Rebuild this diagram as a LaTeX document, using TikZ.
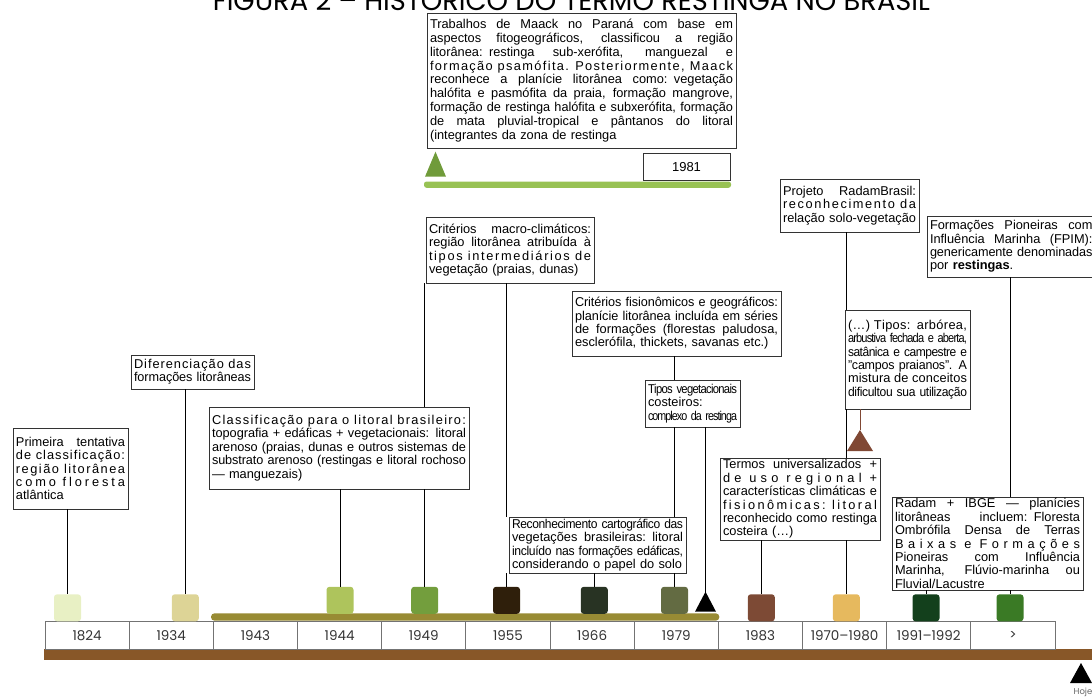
\documentclass[tikz,border=0pt]{standalone}
\usepackage{fontspec}
\usepackage{graphicx}
\setmainfont{Liberation Sans}
\newfontfamily\yearfont{Poppins}
\newfontfamily\titlefont{Poppins}
\usetikzlibrary{calc}
% letter-spacing helper (class 7 chars get stretchable/shrinkable glue between them)
\newcount\lsc
\lsc=33
\loop\XeTeXcharclass\lsc=7 \advance\lsc 1 \ifnum\lsc<256 \repeat
\XeTeXcharclass"2026=7 \XeTeXcharclass"2014=7
\XeTeXinterchartoks 7 7 = {\hskip 0pt plus 1fil minus 1fil\relax}
\newsavebox\jlbox
\newdimen\jldim
% condense: half by tighter letter spacing, half by narrower glyphs
\newcommand\condense[1]{\jldim=\dimexpr(\wd\jlbox+\linewidth)/2\relax
  \sbox\jlbox{\hbox to \jldim{\XeTeXinterchartokenstate=1 #1}}%
  \resizebox{\linewidth}{\height}{\usebox\jlbox}}
\newcommand\jl[1]{\sbox\jlbox{#1}\ifdim\wd\jlbox>\linewidth\condense{#1}\else\makebox[\linewidth][s]{\spaceskip=\fontdimen2\font plus 1fil\relax #1}\fi}
\newcommand\ljl[1]{\sbox\jlbox{#1}\ifdim\wd\jlbox>\linewidth\condense{#1}\else\makebox[\linewidth][s]{\XeTeXinterchartokenstate=1 \spaceskip=\fontdimen2\font plus 1fil\relax #1}\fi}
\newcommand\nl[1]{\sbox\jlbox{#1}\ifdim\wd\jlbox>\linewidth\condense{#1}\else\usebox\jlbox\fi}
\definecolor{c1824}{RGB}{232,240,196}
\definecolor{c1934}{RGB}{221,212,150}
\definecolor{c1944}{RGB}{174,196,92}
\definecolor{c1949}{RGB}{115,158,61}
\definecolor{c1955}{RGB}{47,31,11}
\definecolor{c1966}{RGB}{40,51,35}
\definecolor{c1979}{RGB}{99,107,66}
\definecolor{c1983}{RGB}{125,74,53}
\definecolor{c1970}{RGB}{230,185,94}
\definecolor{c1991}{RGB}{19,64,28}
\definecolor{cgt}{RGB}{58,122,37}
\definecolor{barbrown}{RGB}{136,87,40}
\definecolor{barolive}{RGB}{152,139,52}
\definecolor{bargreen}{RGB}{152,194,84}
\definecolor{trigreen}{RGB}{112,155,58}
\definecolor{tribrown}{RGB}{128,72,52}
\tikzset{
  tb/.style={draw=black!80, line width=0.9pt, fill=white, inner sep=0pt, outer sep=0pt, anchor=north west},
  conn/.style={draw=black, line width=0.8pt},
  sq/.style={minimum size=27pt, inner sep=0pt, rounded corners=3pt, draw=none},
  cell/.style={draw=black!55, line width=0.8pt, minimum width=84.17pt, minimum height=27.3pt, inner sep=0pt,
     font=\yearfont\fontsize{13.5}{14}\selectfont, text=black!80},
}
\newcommand\tlbox[8]{%
  \pgfmathsetmacro\tbW{#4-#2}\pgfmathsetmacro\tbH{#5-#3}\pgfmathsetmacro\tbT{#4-#2-6}%
  \node[tb, minimum width=\tbW pt, minimum height=\tbH pt, text width=\tbT pt,
        font=\fontsize{#6}{#7}\selectfont] (#1) at (#2+3,#3) {#8};}
\begin{document}
\begin{tikzpicture}[x=1pt,y=-1pt]
\useasboundingbox (0,0) rectangle (1092,698);
% title
\node[anchor=base] (title) at (571.5,11) {\resizebox{717pt}{!}{\titlefont FIGURA 2 – HISTÓRICO DO TERMO RESTINGA NO BRASIL}};
% bottom bars and cells
\fill[barbrown] (44,649) rectangle (1092,660);
\foreach \i/\y/\n in {0/1824/c1,1/1934/c2,2/1943/c3,3/1944/c4,4/1949/c5,5/1955/c6,6/1966/c7,7/1979/c8,8/1983/c9,9/1970–1980/c10,10/1991–1992/c11,11/>/c12}
  \node[cell] (\n) at (87.08+\i*84.17,635.4) {\y};
\fill[barolive, rounded corners=3.5pt] (211,613.3) rectangle (719.3,620.7);
% squares
\node[sq, fill=c1824] (s1824) at (67.5,607.8) {};
\node[sq, fill=c1934] (s1934) at (185.3,607.8) {};
\node[sq, fill=c1944] (s1944) at (340,600.3) {};
\node[sq, fill=c1949] (s1949) at (424.7,600.3) {};
\node[sq, fill=c1955] (s1955) at (506.5,600.3) {};
\node[sq, fill=c1966] (s1966) at (594.3,600.3) {};
\node[sq, fill=c1979] (s1979) at (674.5,600.3) {};
\node[sq, fill=c1983] (s1983) at (761.3,607.8) {};
\node[sq, fill=c1970] (s1970) at (846.3,607.8) {};
\node[sq, fill=c1991] (s1991) at (926,607.8) {};
\node[sq, fill=cgt] (sgt) at (1010,607.8) {};
% triangles
\coordinate (t79) at (705.5,591.7);
\fill[black] (t79) -- ++(10.5,20) -- ++(-21,0) -- cycle;
\coordinate (thoje) at (1081,663);
\fill[black] (thoje) -- ++(11,20) -- ++(-22,0) -- cycle;
\node[font=\yearfont\fontsize{8.5}{9}\selectfont, text=black!60] (hoje) at (1083,692) {Hoje};
% top Maack block
\tlbox{maack}{424}{13}{733}{148}{12.8}{13.8}{%
\jl{Trabalhos de Maack no Paraná com base em}\\
\jl{aspectos fitogeográficos, classificou a região}\\
\jl{litorânea: restinga sub-xerófita, manguezal e}\\
\ljl{formação psamófita. Posteriormente, Maack}\\
\jl{reconhece a planície litorânea como: vegetação}\\
\jl{halófita e pasmófita da praia, formação mangrove,}\\
\jl{formação de restinga halófita e subxerófita, formação}\\
\jl{de mata pluvial-tropical e pântanos do litoral}\\
\nl{(integrantes da zona de restinga}}
\coordinate (tgr) at (435.5,151.7);
\fill[trigreen] (tgr) -- ++(10.5,25) -- ++(-21,0) -- cycle;
\node[draw=black!80, line width=0.9pt, minimum width=87pt, minimum height=26.7pt, inner sep=0pt,
  font=\fontsize{13}{14}\selectfont] (y1981) at (686.5,166.7) {1981};
\fill[bargreen, rounded corners=2.5pt] (424,181.5) rectangle (731,187.8);
% boxes
\tlbox{A}{10}{428}{125}{509}{12.8}{13.4}{%
\jl{Primeira tentativa}\\
\ljl{de classificação:}\\
\ljl{região litorânea}\\
\ljl{como floresta}\\
\nl{atlântica}}
\tlbox{B}{128}{355}{251}{389}{12.8}{13.4}{%
\ljl{Diferenciação das}\\
\nl{formações litorâneas}}
\tlbox{C}{206}{407}{466}{489}{12.8}{13.4}{%
\ljl{Classificação para o litoral brasileiro:}\\
\jl{topografia + edáficas + vegetacionais: litoral}\\
\jl{arenoso (praias, dunas e outros sistemas de}\\
\jl{substrato arenoso (restingas e litoral rochoso}\\
\nl{— manguezais)}}
\tlbox{macro}{423}{217}{591}{283}{12.8}{13.4}{%
\jl{Critérios macro-climáticos:}\\
\jl{região litorânea atribuída à}\\
\ljl{tipos intermediários de}\\
\nl{vegetação (praias, dunas)}}
\tlbox{fisio}{569}{291}{778}{356}{12.8}{13.4}{%
\jl{Critérios fisionômicos e geográficos:}\\
\jl{planície litorânea incluída em séries}\\
\jl{de formações (florestas paludosa,}\\
\nl{esclerófila, thickets, savanas etc.)}}
\tlbox{tipos}{642}{380}{737}{427}{12.8}{13.4}{%
\jl{Tipos vegetacionais}\\
\nl{costeiros:}\\
\jl{complexo da restinga}}
\tlbox{recon}{506}{517}{683}{573}{12.8}{13.4}{%
\jl{Reconhecimento cartográfico das}\\
\jl{vegetações brasileiras: litoral}\\
\jl{incluído nas formações edáficas,}\\
\nl{considerando o papel do solo}}
\tlbox{radam}{777}{179}{916}{232}{12.8}{13.4}{%
\jl{Projeto RadamBrasil:}\\
\ljl{reconhecimento da}\\
\nl{relação solo-vegetação}}
\tlbox{dots}{842}{310}{967}{409}{12.8}{13.4}{%
\ljl{(…) Tipos: arbórea,}\\
\jl{arbustiva fechada e aberta,}\\
\jl{satânica e campestre e}\\
\ljl{"campos praianos". A}\\
\ljl{mistura de conceitos}\\
\nl{dificultou sua utilização}}
\tlbox{fpim}{924}{216}{1092.5}{277}{12.8}{13.4}{%
\jl{Formações Pioneiras com}\\
\jl{Influência Marinha (FPIM):}\\
\jl{genericamente denominadas}\\
\nl{por \textbf{restingas}.}}
\tlbox{termos}{717}{458}{877}{540}{12.8}{13.4}{%
\jl{Termos universalizados +}\\
\ljl{de uso regional +}\\
\jl{características climáticas e}\\
\ljl{fisionômicas: litoral}\\
\jl{reconhecido como restinga}\\
\nl{costeira (…)}}
\tlbox{ri}{889}{497}{1080}{590}{12.8}{13.4}{%
\jl{Radam + IBGE — planícies}\\
\jl{litorâneas incluem: Floresta}\\
\jl{Ombrófila Densa de Terras}\\
\ljl{Baixas e Formações}\\
\jl{Pioneiras com Influência}\\
\jl{Marinha, Flúvio-marinha ou}\\
\nl{Fluvial/Lacustre}}
\coordinate (tbr) at (860,430);
\fill[tribrown] (tbr) -- ++(13,21) -- ++(-26,0) -- cycle;
% connectors
\draw[conn] (A.south -| s1824.north) -- (s1824.north);
\draw[conn] (B.south -| s1934.north) -- (s1934.north);
\draw[conn] (C.south -| s1944.north) -- (s1944.north);
\draw[conn] (C.south -| s1949.north) -- (s1949.north);
\draw[conn] (macro.south -| s1949.north) -- (C.north -| s1949.north);
\draw[conn] (macro.south -| s1955.north) -- (recon.north -| s1955.north);
\draw[conn] (recon.south -| s1955.north) -- (s1955.north);
\draw[conn] (recon.south -| s1966.north) -- (s1966.north);
\draw[conn] (fisio.south -| s1979.north) -- (tipos.north -| s1979.north);
\draw[conn] (tipos.south -| s1979.north) -- (recon.north -| s1979.north);
\draw[conn] (recon.south -| s1979.north) -- (s1979.north);
\draw[conn] (tipos.south -| t79) -- (t79);
\draw[conn] (radam.south -| s1970.north) -- (dots.north -| s1970.north);
\draw[conn] (dots.south -| s1970.north) -- (termos.north -| s1970.north);
\draw[conn] (termos.south -| s1970.north) -- (s1970.north);
\draw[conn] (termos.south -| s1983.north) -- (s1983.north);
\draw[conn, draw=tribrown] (dots.south -| tbr) -- (tbr);
\draw[conn] (fpim.south -| sgt.north) -- (ri.north -| sgt.north);
\draw[conn] (ri.south -| sgt.north) -- (sgt.north);
\draw[conn] (ri.south -| s1991.north) -- (s1991.north);
\end{tikzpicture}
\end{document}
